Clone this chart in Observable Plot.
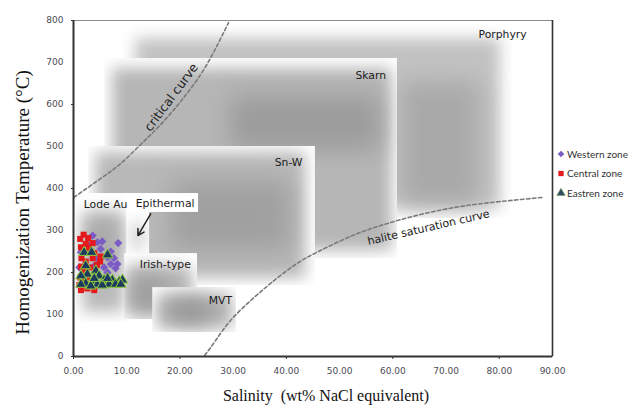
<!DOCTYPE html>
<html>
<head>
<meta charset="utf-8">
<script src="https://cdn.jsdelivr.net/npm/d3@7"></script>
<script src="https://cdn.jsdelivr.net/npm/@observablehq/plot@0.6"></script>
<style>
  body { margin: 0; background: #fff; }
  #wrap { position: relative; width: 630px; height: 405px; overflow: hidden; background: #fff; }
</style>
</head>
<body>
<div id="wrap"></div>
<script>
// ---------- data ----------
const seriesNames = ["Western zone", "Central zone", "Eastren zone"];

const westernX = [3.6, 5.4, 8.4, 4.5, 7.0, 6.4, 7.6, 7.0, 1.1, 5.75, 7.9, 4.5, 2.9, 6.4, 5.1, 3.9, 8.25, 1.4];
const westernY = [288, 274, 270, 272, 250, 236, 234, 220, 212, 212, 210, 232, 264, 200, 256, 216, 220, 248];

const centralX = [1.9, 1.25, 2.75, 2.3, 3.6, 1.4, 2.9, 2.0, 3.9, 5.1, 1.5, 3.6, 2.3, 5.0, 4.4, 1.4, 3.1, 2.0, 1.25, 2.6, 1.7, 1.1, 2.6, 3.9, 1.4];
const centralY = [290, 280, 282, 268, 270, 260, 258, 248, 246, 238, 234, 234, 226, 226, 218, 214, 212, 202, 188, 188, 178, 170, 162, 158, 158];

const easternX = [2.0, 3.4, 6.4, 2.3, 4.2, 2.6, 1.4, 4.8, 5.75, 3.6, 7.3, 8.6, 9.2, 2.3, 4.5, 6.7, 7.9, 5.4, 3.25, 8.9, 1.4, 3.9, 6.4];
const easternY = [248, 248, 242, 216, 204, 196, 192, 192, 182, 180, 182, 178, 182, 174, 172, 172, 172, 170, 168, 172, 172, 186, 186];

// deposit-type fields (salinity, temperature)
const fieldNames = ["Porphyry", "Skarn", "Sn-W", "Lode Au", "Epithermal label", "Epithermal", "Irish-type", "MVT"];
const boxX1 = [9.25, 5.87, 2.87, 0.43, 10.0, 10.0, 9.62, 14.9];
const boxX2 = [82.4, 60.86, 45.45, 10.75, 23.5, 14.3, 23.3, 30.6];
const boxY1 = [328.6, 233, 169, 81, 343, 243, 88, 57];
const boxY2 = [790, 709.5, 500, 388, 388, 343, 245, 164];
const shadeX1 = [11.7, 7.37, 4.18, 1.74, null, 10.9, 10.2, 15.8];
const shadeX2 = [80.2, 59.9, 43.6, 9.62, null, 13.4, 22.4, 29.9];
const shadeY1 = [352, 252, 186, 105, null, 252, 100, 67];
const shadeY2 = [757, 686, 486, 343, null, 319, 214, 148];
const coreX1 = [61.4, 29.5, 18.3, 3.25, null, null, 10.4, 18.25];
const coreX2 = [76.4, 57.7, 40.8, 7.94, null, null, 18.25, 25.8];
const coreY1 = [360, 490, 252, 229, null, null, 105, 81];
const coreY2 = [655, 621, 419, 324, null, null, 193, 133];

const labelText = ["Porphyry", "Skarn", "Sn-W", "Lode Au", "Epithermal", "Irish-type", "MVT"];
const labelX = [76.1, 52.97, 37.8, 1.93, 11.69, 12.44, 25.4];
const labelY = [767, 669, 462, 361, 365, 219, 133];

const criticalX = [0.06, 5.12, 8.87, 12.63, 16.38, 20.13, 23.89, 26.7, 29.14];
const criticalY = [378.6, 423.8, 459.5, 504.8, 552.4, 607.1, 671.4, 733.3, 795.2];
const haliteX = [24.64, 26.7, 29.5, 33.3, 37.0, 41.7, 46.4, 52.0, 57.7, 65.2, 72.7, 80.2, 88.0];
const haliteY = [2.4, 38.1, 85.7, 133.3, 173.8, 219.0, 252.4, 285.7, 311.9, 338.1, 357.1, 369.0, 378.6];

const curveLabelText = ["critical curve", "halite saturation curve"];
const curveLabelX = [18.4, 66.7];
const curveLabelY = [617, 307];

const arrowFrom = [14.5, 339.8];
const arrowTo = [12.1, 288];

const xTicks = [0, 10, 20, 30, 40, 50, 60, 70, 80, 90];
const yTicks = [0, 100, 200, 300, 400, 500, 600, 700, 800];

const xTitle = "Salinity\u00a0 (wt% NaCl equivalent)";
const yTitle = "Homogenization Temperature (\u00b0C)";

// ---------- styles ----------
const shadeFill = {"Porphyry": "#c2c2c2", "Skarn": "#b6b6b6", "Sn-W": "#b8b8b8", "Lode Au": "#bababa", "Epithermal": "#d0d0d0", "Irish-type": "#b8b8b8", "MVT": "#b4b4b4"};
const coreFill = {"Porphyry": "#a9a9a9", "Skarn": "#9c9c9c", "Sn-W": "#a0a0a0", "Lode Au": "#a4a4a4", "Irish-type": "#9c9c9c", "MVT": "#8e8e8e"};
const seriesStyle = {
  "Western zone": {symbol: "diamond2", fill: "#7b5bc4", stroke: "none", r: 3.7},
  "Central zone": {symbol: "square", fill: "#e3191c", stroke: "none", r: 3.4},
  "Eastren zone": {symbol: "triangle", fill: "#1f3a5f", stroke: "#8fce3c", r: 3.9}
};

// ---------- build ----------
const W = 630, H = 405;
const rows = fieldNames.map((name, i) => ({
  name, i,
  x1: boxX1[i], x2: boxX2[i], y1: boxY1[i], y2: boxY2[i],
  sx1: shadeX1[i], sx2: shadeX2[i], sy1: shadeY1[i], sy2: shadeY2[i],
  cx1: coreX1[i], cx2: coreX2[i], cy1: coreY1[i], cy2: coreY2[i]
}));

const fieldMarks = rows.flatMap(r => {
  const ms = [Plot.rect([r], {x1: "x1", x2: "x2", y1: "y1", y2: "y2", fill: "white", ariaDescription: `box-${r.i}`})];
  if (r.sx1 != null) ms.push(Plot.rect([r], {x1: "sx1", x2: "sx2", y1: "sy1", y2: "sy2", fill: shadeFill[r.name], ariaDescription: `shade-${r.i}`}));
  if (r.cx1 != null) ms.push(Plot.rect([r], {x1: "cx1", x2: "cx2", y1: "cy1", y2: "cy2", fill: coreFill[r.name], ariaDescription: `core-${r.i}`}));
  return ms;
});

const labels = labelText.map((t, i) => ({t, x: labelX[i], y: labelY[i]}));
const critical = criticalX.map((x, i) => ({x, y: criticalY[i]}));
const halite = haliteX.map((x, i) => ({x, y: haliteY[i]}));
const curveLabels = curveLabelText.map((t, i) => ({t, x: curveLabelX[i], y: curveLabelY[i]}));

const series = [
  {name: seriesNames[0], xs: westernX, ys: westernY},
  {name: seriesNames[1], xs: centralX, ys: centralY},
  {name: seriesNames[2], xs: easternX, ys: easternY}
];
const dotMarks = series.map(s => {
  const st = seriesStyle[s.name];
  const pts = s.xs.map((x, i) => ({x, y: s.ys[i]}));
  return Plot.dot(pts, {x: "x", y: "y", symbol: () => st.symbol, r: st.r, fill: st.fill, stroke: st.stroke, strokeWidth: 1});
});

const svg = Plot.plot({
  width: W, height: H,
  marginLeft: 73, marginRight: 78, marginTop: 20, marginBottom: 49,
  x: {domain: [0, 90]},
  y: {domain: [0, 800]},
  symbol: {type: "identity"},
  style: {fontFamily: "DejaVu Sans, sans-serif", fontSize: "9px", background: "white"},
  marks: [
    ...fieldMarks,
    Plot.line(critical, {x: "x", y: "y", curve: "natural", stroke: "#7a7a7a", strokeWidth: 1.6, strokeDasharray: "3.5,2.5"}),
    Plot.line(halite, {x: "x", y: "y", curve: "natural", stroke: "#7a7a7a", strokeWidth: 1.6, strokeDasharray: "3.5,2.5"}),
    Plot.text(curveLabels, {x: "x", y: "y", text: "t", rotate: (d) => d.t === "critical curve" ? -53.5 : -13, fontSize: (d) => d.t === "critical curve" ? 12.5 : 11, fill: "#222"}),
    Plot.text(labels, {x: "x", y: "y", text: "t", textAnchor: "start", fontSize: 10.8, fill: "#1a1a1a"}),
    Plot.arrow([{x1: arrowFrom[0], y1: arrowFrom[1], x2: arrowTo[0], y2: arrowTo[1]}], {x1: "x1", y1: "y1", x2: "x2", y2: "y2", stroke: "#222", strokeWidth: 1.5, headLength: 7}),
    ...dotMarks,
    Plot.frame({stroke: "#8a8a8a", strokeWidth: 1}),
    Plot.ruleX([0], {stroke: "#333", strokeWidth: 2}),
    Plot.ruleX([90], {stroke: "#333", strokeWidth: 1.6}),
    Plot.ruleY([0], {stroke: "#333", strokeWidth: 2}),
    Plot.axisX({ticks: xTicks, tickSize: 0, tickPadding: 11, tickFormat: d => d.toFixed(2), fontSize: 9, color: "#4b4b55", label: null}),
    Plot.axisX({ticks: [0, 20, 40, 60, 80], tickSize: 3, tickFormat: () => "", color: "#333", label: null}),
    Plot.axisY({ticks: yTicks, tickSize: 0, tickPadding: 10, fontSize: 9, color: "#4b4b55", label: null}),
    Plot.axisY({ticks: [0, 200, 400, 600, 800], tickSize: 2, tickFormat: () => "", color: "#333", label: null}),
    Plot.text([xTitle], {text: d => d, frameAnchor: "bottom", textAnchor: "middle", lineAnchor: "middle", dx: 13, dy: 39, fontFamily: "Liberation Serif, serif", fontSize: 16, fill: "#111"}),
    Plot.text([yTitle], {text: d => d, frameAnchor: "left", textAnchor: "middle", lineAnchor: "middle", rotate: -90, dx: -51, dy: 14, fontFamily: "Liberation Serif, serif", fontSize: 19, fill: "#111"})
  ]
});

// soft shading of fields: blur each gray rectangle and clip it to its white box
const defs = d3.select(svg).insert("defs", ":first-child");
defs.append("filter").attr("id", "soft").attr("filterUnits", "userSpaceOnUse")
  .attr("x", 0).attr("y", 0).attr("width", W).attr("height", H)
  .append("feGaussianBlur").attr("stdDeviation", 7.5);
defs.append("filter").attr("id", "softer").attr("filterUnits", "userSpaceOnUse")
  .attr("x", 0).attr("y", 0).attr("width", W).attr("height", H)
  .append("feGaussianBlur").attr("stdDeviation", 12);
rows.forEach(r => {
  const box = svg.querySelector(`g[aria-description="box-${r.i}"] rect`);
  if (!box) return;
  const cp = defs.append("clipPath").attr("id", `clip-${r.i}`);
  cp.node().appendChild(box.cloneNode(true));
  [["shade", "soft"], ["core", "softer"]].forEach(([kind, f]) => {
    const g = svg.querySelector(`g[aria-description="${kind}-${r.i}"]`);
    if (g) { g.setAttribute("filter", `url(#${f})`); g.setAttribute("clip-path", `url(#clip-${r.i})`); }
  });
});

const wrap = document.getElementById("wrap");
wrap.appendChild(svg);

// legend (right side)
const leg = d3.select(wrap).append("svg")
  .attr("width", 75).attr("height", 62)
  .style("position", "absolute").style("left", "555px").style("top", "144px");
seriesNames.forEach((name, i) => {
  const st = seriesStyle[name];
  const cy = 10 + i * 19.5;
  const type = st.symbol === "diamond2" ? d3.symbolDiamond2 : st.symbol === "square" ? d3.symbolSquare : d3.symbolTriangle;
  leg.append("path")
    .attr("d", d3.symbol(type, st.symbol === "triangle" ? 30 : 28)())
    .attr("transform", `translate(6,${cy})`)
    .attr("fill", st.symbol === "triangle" ? "#2f4c66" : st.fill)
    .attr("stroke", st.symbol === "triangle" ? "#6f9f4a" : "none")
    .attr("stroke-width", 0.6);
  leg.append("text")
    .attr("x", 12).attr("y", cy).attr("dy", "0.35em")
    .attr("font-family", "Lato, 'Open Sans', sans-serif").attr("font-size", 10)
    .attr("fill", "#333").text(name);
});
</script>
</body>
</html>
